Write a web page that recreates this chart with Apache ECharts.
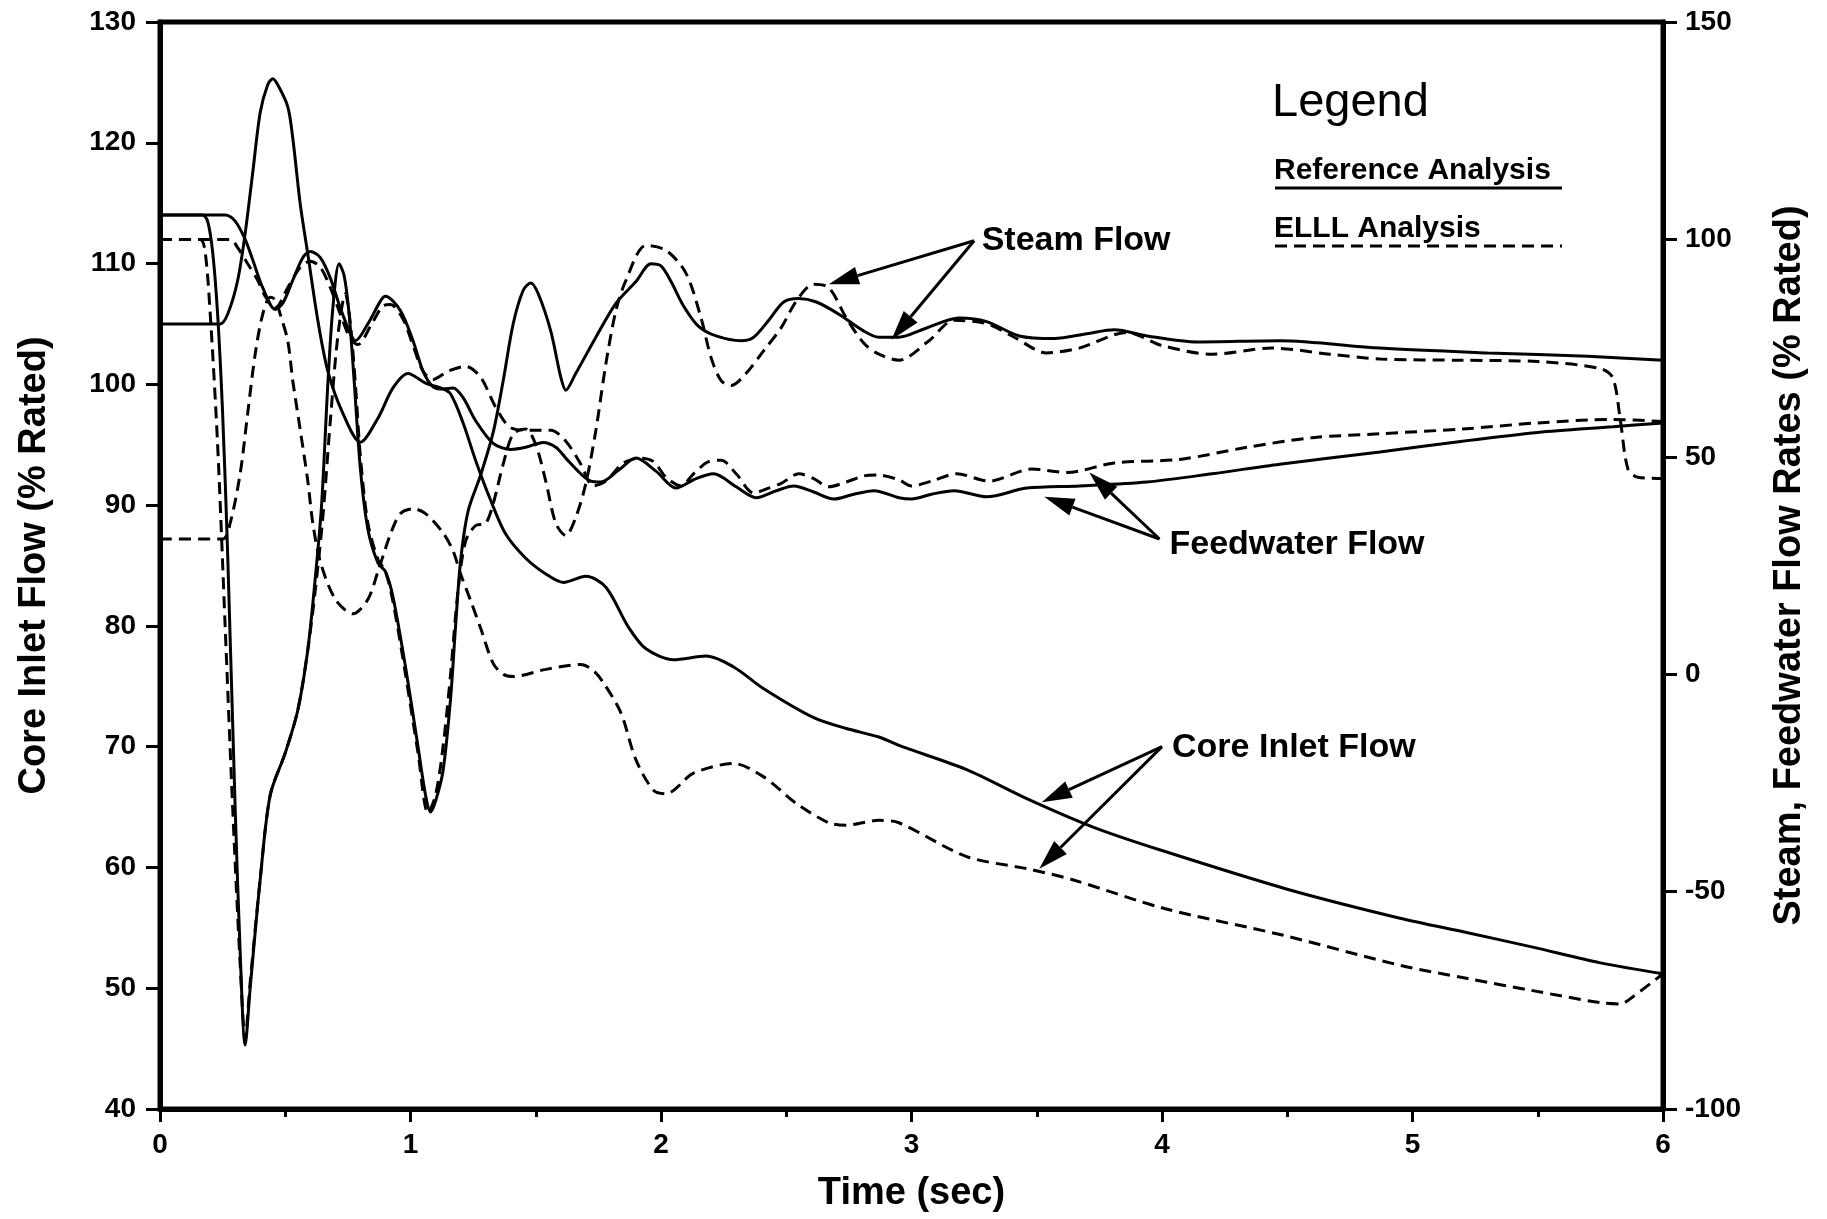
<!DOCTYPE html>
<html>
<head>
<meta charset="utf-8">
<script src="https://cdn.jsdelivr.net/npm/echarts@6/dist/echarts.min.js"></script>
<style>
  html, body { margin: 0; padding: 0; background: #fff; }
  #main { width: 1827px; height: 1219px; }
</style>
</head>
<body>
<div id="main"></div>
<script>
// ---- Data: time (sec) vs flow (% rated) ----
// Core inlet flow, left axis
const coreInletRef = [
  [0,105],[0.24,105],[0.27,105.8],[0.31,108.6],[0.34,112.5],[0.37,117.5],[0.4,122.5],[0.43,124.8],[0.45,125.3],
  [0.47,124.8],[0.51,123],[0.53,120.4],[0.56,114.9],[0.59,110.8],[0.63,105.3],[0.67,101.1],[0.73,97.6],[0.8,95.2],
  [0.87,97.2],[0.93,99.7],[0.99,100.9],[1.06,100.1],[1.12,99.7],[1.16,99.2],[1.21,96.8],[1.26,93.7],[1.32,90.4],
  [1.38,87.6],[1.46,85.6],[1.54,84.3],[1.61,83.6],[1.7,84.1],[1.78,83.2],[1.87,79.9],[1.94,78.1],[2.05,77.2],
  [2.18,77.5],[2.29,76.6],[2.41,74.8],[2.61,72.4],[2.74,71.5],[2.87,70.8],[2.95,70.1],[3.22,68.1],[3.46,65.7],
  [3.73,63.3],[4.0,61.4],[4.5,58.2],[4.95,55.8],[5.22,54.6],[5.48,53.4],[5.75,52.1],[6.0,51.2]
];
const coreInletELLL = [
  [0,87.2],[0.25,87.2],[0.28,88.5],[0.32,92.6],[0.35,97.6],[0.38,102.5],[0.41,105.8],[0.44,107.2],[0.46,107],
  [0.48,105.8],[0.51,103.6],[0.53,100.3],[0.56,96.2],[0.59,92],[0.61,88.5],[0.64,85.3],[0.7,82.2],[0.77,81],
  [0.83,82.2],[0.87,84.5],[0.92,87.6],[0.96,89.3],[1.01,89.7],[1.06,89.3],[1.13,87.7],[1.17,86.2],[1.2,84.3],
  [1.24,82.1],[1.28,79.8],[1.33,76.9],[1.37,76],[1.41,75.8],[1.54,76.4],[1.68,76.8],[1.73,76.3],[1.77,75.3],
  [1.84,72.8],[1.9,68.9],[1.97,66.4],[2.02,66.1],[2.13,67.8],[2.29,68.6],[2.41,67.5],[2.54,65.3],[2.67,63.7],
  [2.74,63.5],[2.87,63.9],[2.95,63.7],[3.22,60.9],[3.46,59.9],[3.64,59],[4.01,56.6],[4.48,54.4],[4.95,51.9],
  [5.22,50.8],[5.48,49.8],[5.75,48.8],[5.83,48.7],[5.88,49.3],[6.0,51.2]
];
// Steam flow, right axis
const steamRef = [
  [0,105.6],[0.17,105.6],[0.19,104.2],[0.21,97.2],[0.23,82.8],[0.25,60.0],[0.27,27.8],[0.3,-30.6],[0.32,-63.9],
  [0.34,-85.3],[0.36,-72.2],[0.4,-47.2],[0.44,-27.8],[0.5,-18.1],[0.55,-8.3],[0.59,5.6],[0.62,22.2],[0.645,38.9],
  [0.67,66.7],[0.69,84.2],[0.715,94.4],[0.735,91.7],[0.755,82.8],[0.775,67.5],[0.8,47.2],[0.83,33.3],[0.87,25.6],
  [0.9,23.6],[0.93,17.8],[0.98,1.7],[1.03,-16.7],[1.06,-27.8],[1.08,-31.7],[1.1,-29.2],[1.13,-22.2],[1.16,-5.6],
  [1.18,11.1],[1.2,26.1],[1.23,37.5],[1.28,45.8],[1.33,55.6],[1.37,67.5],[1.41,80.6],[1.45,88.3],[1.48,90.0],
  [1.51,87.5],[1.56,78.9],[1.6,68.3],[1.62,65.3],[1.66,69.2],[1.74,77.5],[1.82,85.3],[1.9,90.3],[1.96,94.4],
  [2.0,93.9],[2.04,90.3],[2.09,84.7],[2.15,80.0],[2.22,77.8],[2.32,76.7],[2.37,77.5],[2.43,81.4],[2.49,85.6],
  [2.55,86.4],[2.62,85.6],[2.71,82.8],[2.81,78.9],[2.87,77.5],[2.95,77.5],[3.05,79.4],[3.19,81.9],[3.3,81.1],
  [3.43,77.8],[3.57,77.2],[3.7,78.3],[3.81,79.2],[3.94,77.8],[4.14,76.4],[4.47,76.7],[4.87,75.0],[5.3,73.9],
  [5.7,73.1],[6.0,72.2]
];
const steamELLL = [
  [0,100.0],[0.16,100.0],[0.18,97.2],[0.2,83.3],[0.23,52.8],[0.26,11.1],[0.29,-30.6],[0.32,-66.7],[0.34,-83.9],
  [0.36,-70.8],[0.4,-47.2],[0.44,-27.8],[0.5,-18.1],[0.55,-8.3],[0.59,5.6],[0.62,19.4],[0.65,36.1],[0.68,58.3],
  [0.71,77.8],[0.74,87.5],[0.76,80.6],[0.78,66.7],[0.8,50.0],[0.83,34.7],[0.87,26.4],[0.9,23.6],[0.93,16.7],
  [0.98,0],[1.03,-18.1],[1.07,-31.9],[1.1,-27.8],[1.13,-16.7],[1.16,0],[1.19,19.4],[1.22,30.6],[1.26,34.2],
  [1.3,34.7],[1.33,39.2],[1.37,48.3],[1.41,55.3],[1.46,56.4],[1.5,52.8],[1.54,44.4],[1.58,34.7],[1.62,31.9],
  [1.66,36.1],[1.7,43.9],[1.74,56.1],[1.78,71.4],[1.82,83.6],[1.86,90.6],[1.94,98.6],[2.02,97.5],[2.1,92.2],
  [2.16,81.9],[2.2,72.8],[2.24,67.5],[2.28,66.4],[2.34,69.2],[2.41,74.4],[2.48,79.7],[2.54,85.8],[2.61,89.7],
  [2.67,88.9],[2.74,81.9],[2.81,76.1],[2.87,73.6],[2.95,72.2],[3.07,76.7],[3.17,81.4],[3.3,80.6],[3.41,77.5],
  [3.54,73.9],[3.67,75.0],[3.86,78.6],[4.0,75.6],[4.2,73.6],[4.44,75.0],[4.67,73.6],[4.87,72.5],[5.2,72.2],
  [5.5,71.9],[5.75,70.3],[5.8,68.1],[5.83,58.3],[5.86,47.2],[5.9,45.3],[6.0,45.0]
];
// Feedwater flow, right axis
const feedwaterRef = [
  [0,105.6],[0.26,105.6],[0.3,104.2],[0.34,100.0],[0.37,95.3],[0.41,88.9],[0.46,83.9],[0.49,85.3],[0.53,90.6],
  [0.57,95.8],[0.6,97.2],[0.64,95.8],[0.68,91.1],[0.72,84.2],[0.76,78.3],[0.78,76.7],[0.83,80.6],[0.88,85.8],
  [0.9,86.9],[0.96,83.6],[1.01,76.7],[1.05,69.7],[1.09,66.1],[1.13,65.6],[1.17,65.8],[1.21,63.6],[1.26,58.3],
  [1.33,53.1],[1.4,51.7],[1.46,52.2],[1.53,53.3],[1.58,52.2],[1.62,49.7],[1.68,46.1],[1.72,44.4],[1.76,44.2],
  [1.83,46.9],[1.9,49.7],[1.98,46.7],[2.06,42.8],[2.14,45.0],[2.21,46.1],[2.3,43.1],[2.38,40.6],[2.46,42.2],
  [2.53,43.3],[2.61,41.9],[2.69,40.3],[2.77,41.4],[2.85,42.2],[2.95,40.6],[3.0,40.3],[3.08,41.4],[3.17,42.2],
  [3.3,40.8],[3.46,42.8],[3.67,43.3],[3.94,44.2],[4.2,46.1],[4.47,48.3],[4.87,51.1],[5.2,53.6],[5.5,55.6],
  [5.8,56.9],[6.0,57.8]
];
const feedwaterELLL = [
  [0,100.0],[0.28,100.0],[0.31,98.1],[0.35,94.4],[0.39,90.6],[0.42,86.9],[0.46,84.2],[0.51,88.9],[0.56,93.6],
  [0.6,95.0],[0.64,93.6],[0.68,88.9],[0.72,82.8],[0.76,77.2],[0.79,75.8],[0.84,80.0],[0.89,84.7],[0.92,85.0],
  [0.97,81.7],[1.01,75.6],[1.05,69.7],[1.09,67.8],[1.15,69.7],[1.22,70.8],[1.28,68.3],[1.34,61.4],[1.4,56.7],
  [1.48,56.1],[1.56,56.1],[1.62,53.6],[1.68,48.3],[1.73,43.3],[1.78,44.4],[1.85,48.6],[1.92,49.7],[1.97,48.9],
  [2.02,45.3],[2.08,43.3],[2.13,46.1],[2.19,48.9],[2.24,49.2],[2.3,46.1],[2.37,41.7],[2.43,42.8],[2.48,43.9],
  [2.55,46.1],[2.61,45.0],[2.67,43.1],[2.74,44.2],[2.81,45.6],[2.87,45.8],[2.95,44.7],[3.0,43.3],[3.08,44.4],
  [3.18,46.1],[3.31,44.4],[3.48,47.2],[3.62,46.4],[3.81,48.6],[4.07,49.4],[4.34,52.2],[4.6,54.4],[4.87,55.3],
  [5.2,56.4],[5.5,57.8],[5.8,58.6],[6.0,58.1]
];

// Callout labels with arrow tail / tip points in data units: [time, value, yAxisIndex]
const callouts = [
  { text: 'Steam Flow',      at: [3.28, 99.7, 1],  tail: [3.25, 99.7, 1],  tips: [[2.67, 89.7, 1], [2.92, 76.9, 1]] },
  { text: 'Feedwater Flow',  at: [4.03, 29.7, 1],  tail: [3.99, 31.1, 1],  tips: [[3.71, 46.4, 1], [3.53, 40.8, 1]] },
  { text: 'Core Inlet Flow', at: [4.04, 69.9, 0],  tail: [4.0, 70.0, 0],   tips: [[3.52, 65.4, 0], [3.51, 59.9, 0]] }
];

const FONT = '"Liberation Sans", Arial, Helvetica, sans-serif';
const INK = '#000';
const solidStyle  = { color: INK, width: 3, type: 'solid' };
const dashedStyle = { color: INK, width: 3, type: [12, 7] };

function flowSeries(name, data, yAxisIndex, lineStyle) {
  return {
    name, type: 'line', data, yAxisIndex,
    showSymbol: false, symbol: 'none', smooth: 0.3,
    lineStyle, z: 3, silent: true
  };
}

const chart = echarts.init(document.getElementById('main'), null, { renderer: 'canvas' });

const tickLabel = { color: INK, fontFamily: FONT, fontSize: 28, fontWeight: 'bold' };
const titleText = { color: INK, fontFamily: FONT, fontSize: 38, fontWeight: 'bold' };

chart.setOption({
  animation: false,
  backgroundColor: '#fff',
  grid: { left: 160, right: 164, top: 22, bottom: 110, show: true, borderColor: INK, borderWidth: 5 },
  xAxis: {
    type: 'value', min: 0, max: 6, interval: 1,
    name: 'Time (sec)', nameLocation: 'middle', nameGap: 66, nameTextStyle: titleText,
    axisLine: { show: true, onZero: false, lineStyle: { color: INK, width: 5 } },
    axisTick: { show: true, inside: false, length: 13, lineStyle: { color: INK, width: 3 } },
    minorTick: { show: true, splitNumber: 2, length: 8, lineStyle: { color: INK, width: 3 } },
    splitLine: { show: false },
    axisLabel: Object.assign({ margin: 22 }, tickLabel)
  },
  yAxis: [
    {
      type: 'value', position: 'left', min: 40, max: 130, interval: 10,
      name: 'Core Inlet Flow (% Rated)', nameLocation: 'middle', nameGap: 106, nameRotate: 90,
      nameTextStyle: titleText,
      axisLine: { show: true, onZero: false, lineStyle: { color: INK, width: 5 } },
      axisTick: { show: true, length: 14, lineStyle: { color: INK, width: 3 } },
      splitLine: { show: false },
      axisLabel: Object.assign({ margin: 24 }, tickLabel)
    },
    {
      type: 'value', position: 'right', min: -100, max: 150, interval: 50,
      name: 'Steam, Feedwater Flow Rates (% Rated)', nameLocation: 'middle', nameGap: 108, nameRotate: 90,
      nameTextStyle: titleText,
      axisLine: { show: true, onZero: false, lineStyle: { color: INK, width: 5 } },
      axisTick: { show: true, length: 14, lineStyle: { color: INK, width: 3 } },
      splitLine: { show: false },
      axisLabel: Object.assign({ margin: 22 }, tickLabel)
    }
  ],
  series: [
    flowSeries('Core Inlet Flow - Reference', coreInletRef, 0, solidStyle),
    flowSeries('Core Inlet Flow - ELLL', coreInletELLL, 0, dashedStyle),
    flowSeries('Steam Flow - Reference', steamRef, 1, solidStyle),
    flowSeries('Steam Flow - ELLL', steamELLL, 1, dashedStyle),
    flowSeries('Feedwater Flow - Reference', feedwaterRef, 1, solidStyle),
    flowSeries('Feedwater Flow - ELLL', feedwaterELLL, 1, dashedStyle)
  ]
});

// ---- Callout arrows, text and legend block ----
function px(p) {
  return chart.convertToPixel({ xAxisIndex: 0, yAxisIndex: p[2] }, [p[0], p[1]]);
}
function arrow(from, to) {
  const dx = to[0] - from[0], dy = to[1] - from[1];
  const len = Math.sqrt(dx * dx + dy * dy);
  const ux = dx / len, uy = dy / len;
  const headLen = 30, headHalf = 9;
  const bx = to[0] - ux * headLen, by = to[1] - uy * headLen;
  return [
    { type: 'line', shape: { x1: from[0], y1: from[1], x2: bx, y2: by },
      style: { stroke: INK, lineWidth: 3 }, z: 10 },
    { type: 'polygon', shape: { points: [
        [to[0], to[1]],
        [bx - uy * headHalf, by + ux * headHalf],
        [bx + uy * headHalf, by - ux * headHalf]
      ] }, style: { fill: INK }, z: 10 }
  ];
}

const graphics = [];
callouts.forEach(function (c) {
  const tail = px(c.tail);
  c.tips.forEach(function (t) { graphics.push.apply(graphics, arrow(tail, px(t))); });
  const at = px(c.at);
  graphics.push({
    type: 'text', x: at[0], y: at[1], z: 10,
    style: { text: c.text, fill: INK, font: 'bold 34px ' + FONT, textAlign: 'left', textVerticalAlign: 'middle' }
  });
});

// Legend block (upper right of the plot)
graphics.push(
  { type: 'text', x: 1272, y: 103, z: 10,
    style: { text: 'Legend', fill: INK, font: '47px ' + FONT, textAlign: 'left', textVerticalAlign: 'middle' } },
  { type: 'text', x: 1274, y: 171, z: 10,
    style: { text: 'Reference Analysis', fill: INK, font: 'bold 30px ' + FONT, textAlign: 'left', textVerticalAlign: 'middle' } },
  { type: 'line', shape: { x1: 1275, y1: 188, x2: 1562, y2: 188 }, style: { stroke: INK, lineWidth: 3 }, z: 10 },
  { type: 'text', x: 1274, y: 229, z: 10,
    style: { text: 'ELLL Analysis', fill: INK, font: 'bold 30px ' + FONT, textAlign: 'left', textVerticalAlign: 'middle' } },
  { type: 'line', shape: { x1: 1275, y1: 246, x2: 1562, y2: 246 }, style: { stroke: INK, lineWidth: 3, lineDash: [12, 7] }, z: 10 }
);

chart.setOption({ graphic: graphics });
</script>
</body>
</html>
